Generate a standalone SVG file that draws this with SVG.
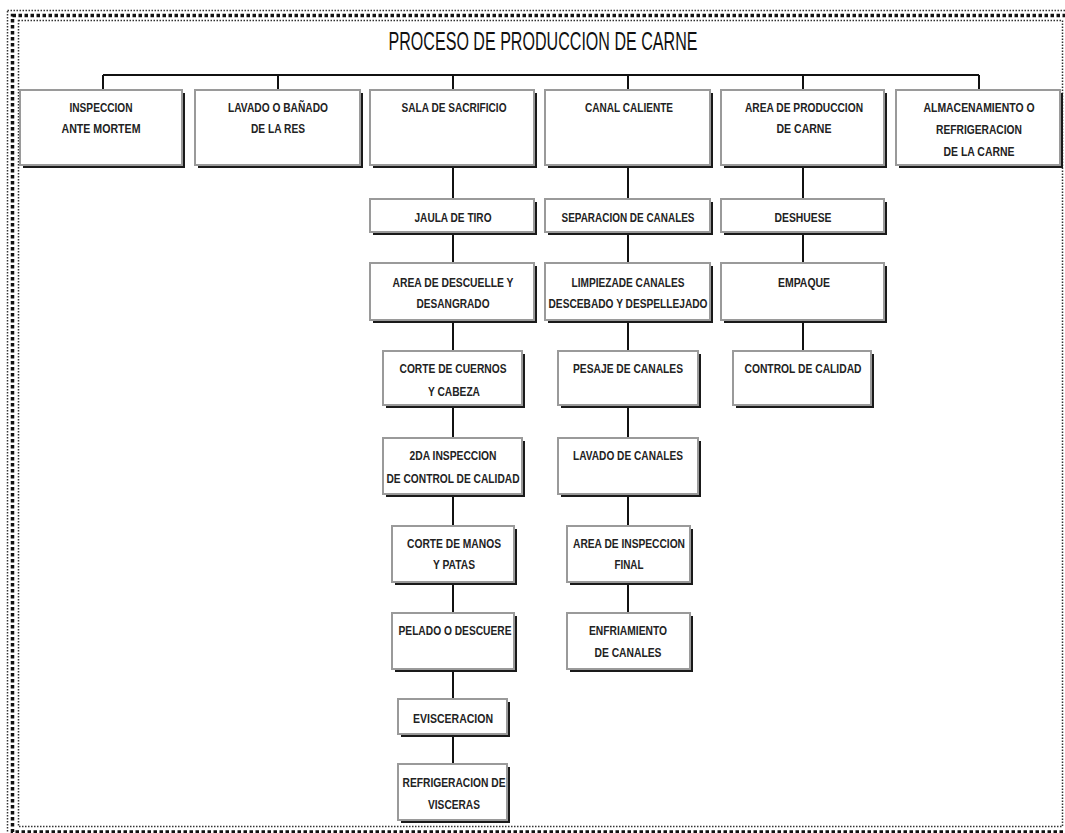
<svg xmlns="http://www.w3.org/2000/svg" width="1065" height="833" viewBox="0 0 1065 833">
<style>
.sh{fill:#1a1a1a}
.bx{fill:#fff;stroke:#9a9a9a;stroke-width:2}
.t{font-family:"Liberation Sans",Arial,sans-serif;font-size:13px;font-weight:bold;fill:#222;text-anchor:middle}
.title{font-family:"Liberation Sans",Arial,sans-serif;font-size:25px;fill:#111;text-anchor:middle}
.c{stroke:#111;stroke-width:2;fill:none}
</style>
<rect width="1065" height="833" fill="#fff"/>
<g id="frame" fill="none">
<rect x="7.5" y="10.5" width="1075" height="840" stroke="#333" stroke-width="1.5" stroke-dasharray="1.5,1.5"/>
<rect x="12.5" y="15.5" width="1065" height="816.5" stroke="#111" stroke-width="3.5" stroke-dasharray="3.5,2.5"/>
<rect x="18.5" y="20.5" width="1044" height="806" stroke="#333" stroke-width="1.5" stroke-dasharray="1.5,1.5"/>
</g>
<text id="title" class="title" x="543" y="50" textLength="309" lengthAdjust="spacingAndGlyphs">PROCESO DE PRODUCCION DE CARNE</text>
<g id="connectors" class="c">
<path d="M103 75H979M103 75V90M278 75V90M453 75V90M628 75V90M803 75V90M979 75V90"/>
<path d="M453 168V199M453 235V263M453 323V351M453 408V438M453 497V526M453 585V613M453 672V699M453 737V764"/>
<path d="M628 168V199M628 235V263M628 323V351M628 408V438M628 497V526M628 585V613"/>
<path d="M803 168V199M803 235V263M803 323V351"/>
</g>
<g id="n1"><rect class="sh" x="23" y="93" width="162" height="75"/><rect class="bx" x="20" y="90" width="162" height="75"/>
<text class="t" x="101" y="112" textLength="63" lengthAdjust="spacingAndGlyphs">INSPECCION</text><text class="t" x="101" y="133" textLength="79" lengthAdjust="spacingAndGlyphs">ANTE MORTEM</text></g>
<g id="n2"><rect class="sh" x="198" y="93" width="165" height="75"/><rect class="bx" x="195" y="90" width="165" height="75"/>
<text class="t" x="278" y="112" textLength="100" lengthAdjust="spacingAndGlyphs">LAVADO O BAÑADO</text><text class="t" x="278" y="133" textLength="54" lengthAdjust="spacingAndGlyphs">DE LA RES</text></g>
<g id="n3"><rect class="sh" x="373" y="93" width="164" height="75"/><rect class="bx" x="370" y="90" width="164" height="75"/>
<text class="t" x="454" y="112" textLength="105" lengthAdjust="spacingAndGlyphs">SALA DE SACRIFICIO</text></g>
<g id="n4"><rect class="sh" x="548" y="93" width="165" height="75"/><rect class="bx" x="545" y="90" width="165" height="75"/>
<text class="t" x="629" y="112" textLength="88" lengthAdjust="spacingAndGlyphs">CANAL CALIENTE</text></g>
<g id="n5"><rect class="sh" x="724" y="93" width="163" height="75"/><rect class="bx" x="721" y="90" width="163" height="75"/>
<text class="t" x="804" y="112" textLength="118" lengthAdjust="spacingAndGlyphs">AREA DE PRODUCCION</text><text class="t" x="804" y="133" textLength="55" lengthAdjust="spacingAndGlyphs">DE CARNE</text></g>
<g id="n6"><rect class="sh" x="899" y="93" width="164" height="75"/><rect class="bx" x="896" y="90" width="164" height="75"/>
<text class="t" x="979" y="112" textLength="111" lengthAdjust="spacingAndGlyphs">ALMACENAMIENTO O</text><text class="t" x="979" y="134" textLength="86" lengthAdjust="spacingAndGlyphs">REFRIGERACION</text><text class="t" x="979" y="156" textLength="71" lengthAdjust="spacingAndGlyphs">DE LA CARNE</text></g>

<g id="s1"><rect class="sh" x="373" y="202" width="164" height="33"/><rect class="bx" x="370" y="199" width="164" height="33"/>
<text class="t" x="453" y="222" textLength="77" lengthAdjust="spacingAndGlyphs">JAULA DE TIRO</text></g>
<g id="s2"><rect class="sh" x="373" y="266" width="164" height="57"/><rect class="bx" x="370" y="263" width="164" height="57"/>
<text class="t" x="453" y="287" textLength="121" lengthAdjust="spacingAndGlyphs">AREA DE DESCUELLE Y</text><text class="t" x="453" y="308" textLength="73" lengthAdjust="spacingAndGlyphs">DESANGRADO</text></g>
<g id="s3"><rect class="sh" x="386" y="354" width="139" height="54"/><rect class="bx" x="383" y="351" width="139" height="54"/>
<text class="t" x="453" y="373" textLength="107" lengthAdjust="spacingAndGlyphs">CORTE DE CUERNOS</text><text class="t" x="454" y="396" textLength="52" lengthAdjust="spacingAndGlyphs">Y CABEZA</text></g>
<g id="s4"><rect class="sh" x="386" y="441" width="139" height="56"/><rect class="bx" x="383" y="438" width="139" height="56"/>
<text class="t" x="453" y="460" textLength="87" lengthAdjust="spacingAndGlyphs">2DA INSPECCION</text><text class="t" x="453" y="483" textLength="133" lengthAdjust="spacingAndGlyphs">DE CONTROL DE CALIDAD</text></g>
<g id="s5"><rect class="sh" x="395" y="529" width="122" height="56"/><rect class="bx" x="392" y="526" width="122" height="56"/>
<text class="t" x="454" y="548" textLength="94" lengthAdjust="spacingAndGlyphs">CORTE DE MANOS</text><text class="t" x="454" y="569" textLength="42" lengthAdjust="spacingAndGlyphs">Y PATAS</text></g>
<g id="s6"><rect class="sh" x="395" y="616" width="122" height="56"/><rect class="bx" x="392" y="613" width="122" height="56"/>
<text class="t" x="455" y="635" textLength="113" lengthAdjust="spacingAndGlyphs">PELADO O DESCUERE</text></g>
<g id="s7"><rect class="sh" x="401" y="702" width="109" height="35"/><rect class="bx" x="398" y="699" width="109" height="35"/>
<text class="t" x="453" y="723" textLength="80" lengthAdjust="spacingAndGlyphs">EVISCERACION</text></g>
<g id="s8"><rect class="sh" x="401" y="767" width="109" height="56"/><rect class="bx" x="398" y="764" width="109" height="56"/>
<text class="t" x="454" y="787" textLength="103" lengthAdjust="spacingAndGlyphs">REFRIGERACION DE</text><text class="t" x="454" y="809" textLength="52" lengthAdjust="spacingAndGlyphs">VISCERAS</text></g>

<g id="c1"><rect class="sh" x="548" y="202" width="165" height="33"/><rect class="bx" x="545" y="199" width="165" height="33"/>
<text class="t" x="628" y="222" textLength="133" lengthAdjust="spacingAndGlyphs">SEPARACION DE CANALES</text></g>
<g id="c2"><rect class="sh" x="548" y="266" width="165" height="57"/><rect class="bx" x="545" y="263" width="165" height="57"/>
<text class="t" x="628" y="287" textLength="113" lengthAdjust="spacingAndGlyphs">LIMPIEZADE CANALES</text><text class="t" x="628" y="308" textLength="159" lengthAdjust="spacingAndGlyphs">DESCEBADO Y DESPELLEJADO</text></g>
<g id="c3"><rect class="sh" x="561" y="354" width="140" height="54"/><rect class="bx" x="558" y="351" width="140" height="54"/>
<text class="t" x="628" y="373" textLength="110" lengthAdjust="spacingAndGlyphs">PESAJE DE CANALES</text></g>
<g id="c4"><rect class="sh" x="561" y="441" width="140" height="56"/><rect class="bx" x="558" y="438" width="140" height="56"/>
<text class="t" x="628" y="460" textLength="110" lengthAdjust="spacingAndGlyphs">LAVADO DE CANALES</text></g>
<g id="c5"><rect class="sh" x="570" y="529" width="123" height="56"/><rect class="bx" x="567" y="526" width="123" height="56"/>
<text class="t" x="629" y="548" textLength="112" lengthAdjust="spacingAndGlyphs">AREA DE INSPECCION</text><text class="t" x="629" y="569" textLength="29" lengthAdjust="spacingAndGlyphs">FINAL</text></g>
<g id="c6"><rect class="sh" x="570" y="616" width="123" height="56"/><rect class="bx" x="567" y="613" width="123" height="56"/>
<text class="t" x="628" y="635" textLength="78" lengthAdjust="spacingAndGlyphs">ENFRIAMIENTO</text><text class="t" x="628" y="657" textLength="67" lengthAdjust="spacingAndGlyphs">DE CANALES</text></g>

<g id="p1"><rect class="sh" x="724" y="202" width="163" height="33"/><rect class="bx" x="721" y="199" width="163" height="33"/>
<text class="t" x="803" y="222" textLength="57" lengthAdjust="spacingAndGlyphs">DESHUESE</text></g>
<g id="p2"><rect class="sh" x="724" y="266" width="163" height="57"/><rect class="bx" x="721" y="263" width="163" height="57"/>
<text class="t" x="804" y="287" textLength="52" lengthAdjust="spacingAndGlyphs">EMPAQUE</text></g>
<g id="p3"><rect class="sh" x="736" y="354" width="138" height="54"/><rect class="bx" x="733" y="351" width="138" height="54"/>
<text class="t" x="803" y="373" textLength="117" lengthAdjust="spacingAndGlyphs">CONTROL DE CALIDAD</text></g>
</svg>
